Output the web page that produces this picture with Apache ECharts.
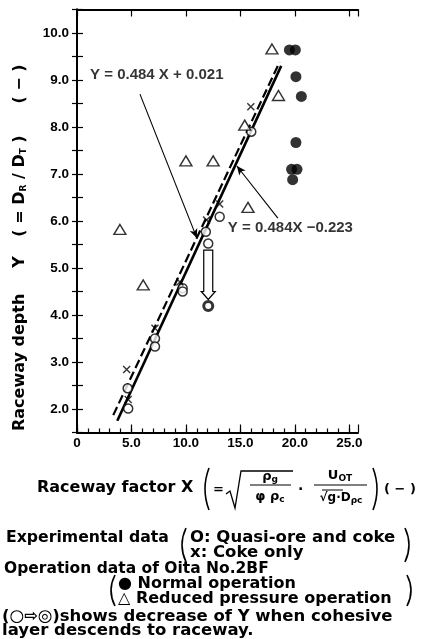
<!DOCTYPE html>
<html>
<head>
<meta charset="utf-8">
<script src="https://cdn.jsdelivr.net/npm/echarts@6/dist/echarts.min.js"></script>
<style>
  html, body { margin: 0; padding: 0; background: #fff; }
  #main { width: 422px; height: 639px; }
</style>
</head>
<body>
<div id="main"></div>
<script>
// Experimental data: quasi-ore and coke (open circles)
const quasiX = [4.65, 4.7, 7.16, 7.16, 9.7, 9.7, 11.83, 12.05, 13.1, 16.0];
const quasiY = [2.44, 2.01, 3.5, 3.33, 4.57, 4.5, 5.77, 5.52, 6.09, 7.9];
// Experimental data: coke only (x marks)
const cokeX = [4.56, 4.7, 7.16, 9.45, 11.9, 13.1, 15.96];
const cokeY = [2.84, 2.2, 3.72, 4.7, 6.02, 6.36, 8.43];
// Oita No.2BF, normal operation (filled circles)
const normalX = [19.5, 20.05, 20.1, 20.6, 20.1, 19.7, 20.2, 19.8];
const normalY = [9.64, 9.64, 9.07, 8.65, 7.67, 7.1, 7.1, 6.88];
// Oita No.2BF, reduced pressure operation (open triangles)
const reducedX = [3.94, 6.08, 10.0, 12.5, 15.4, 15.7, 17.9, 18.5];
const reducedY = [5.82, 4.64, 7.28, 7.28, 8.04, 6.29, 9.66, 8.67];
// cohesive layer descends: point after the drop
const droppedX = [12.05];
const droppedY = [4.19];
// hollow arrow (x, from y, to y)
const dropArrow = [12.05, 5.38, 4.33];
// fitted lines, end points
const dashedX = [3.33, 18.6];
const dashedY = [1.87, 9.38];
const solidX = [3.7, 18.75];
const solidY = [1.75, 9.3];
// equation labels and their pointer arrows
const eqText = ['Y = 0.484 X + 0.021', 'Y = 0.484X \u22120.223'];
const eqX = [1.2, 13.85];
const eqY = [9.1, 5.85];
const ptrFrom = [[5.78, 8.7], [18.44, 6.06]];
const ptrTo = [[11.0, 5.64], [14.68, 7.17]];

const xTicks = [0, 5, 10, 15, 20, 25];

const zip = (a, b) => a.map((v, i) => [v, b[i]]);
const FONT = '"DejaVu Sans"';
const black = '#000';

const chart = echarts.init(document.getElementById('main'));

const subStyle = { fontFamily: FONT, fontWeight: 'bold', fontSize: 9, verticalAlign: 'bottom', padding: [6, 0, 0, 0] };

function txt(x, y, s, size, more) {
  const el = {
    type: 'text', x: x, y: y,
    style: {
      text: s, fontFamily: FONT, fontWeight: 'bold', fontSize: size,
      fill: black, align: 'left', verticalAlign: 'middle', rich: { s: subStyle }
    }
  };
  if (more) {
    Object.assign(el.style, more.style || {});
    if (more.rotation) el.rotation = more.rotation;
  }
  return el;
}
function paren(x, top, bottom, right) {
  const d = right ? -1 : 1;
  return {
    type: 'bezierCurve',
    shape: { x1: x + 3 * d, y1: top, x2: x + 3 * d, y2: bottom, cpx1: x - 5 * d, cpy1: (top + bottom) / 2 },
    style: { stroke: black, lineWidth: 1.6, fill: null }
  };
}
function line(x1, y1, x2, y2, w) {
  return { type: 'line', shape: { x1, y1, x2, y2 }, style: { stroke: black, lineWidth: w || 1.2 } };
}
const up = Math.PI / 2;
const centred = { style: { align: 'center' } };

const graphics = [
  // y axis title, reads bottom to top
  txt(20, 431, 'Raceway depth', 16, { rotation: up }),
  txt(20, 262, 'Y', 16, { rotation: up, style: { align: 'center' } }),
  txt(20, 186, '( = D{s|R} / D{s|T} )', 16, { rotation: up, style: { align: 'center' } }),
  txt(20, 84, '( \u2212 )', 16, { rotation: up, style: { align: 'center' } }),
  // x axis title with formula
  txt(37, 488, 'Raceway factor X', 16),
  paren(206, 468, 510, false),
  txt(213, 490, '=', 13),
  { type: 'polyline', shape: { points: [[226, 494], [230, 491], [235, 508], [241, 471], [293, 471]] }, style: { stroke: black, lineWidth: 1.3, fill: null } },
  txt(270, 477, '\u03c1{s|g}', 13, centred),
  line(250, 485, 291, 485),
  txt(270, 497, '\u03c6 \u03c1{s|c}', 13, centred),
  txt(298, 490, '\u00b7', 14),
  txt(340, 476, 'U{s|OT}', 13, centred),
  line(314, 485, 367, 485),
  txt(341, 498, '\u221ag\u00b7D{s|\u03c1c}', 12, centred),
  line(322, 490, 343, 490, 1),
  paren(376, 468, 510, true),
  txt(384, 490, '( \u2212 )', 13),
  // explanation
  txt(6, 538, 'Experimental data', 15.7),
  paren(183, 528, 562, false),
  txt(190, 538, 'O: Quasi-ore and coke', 16.5),
  txt(190, 553, 'x: Coke only', 16.5),
  paren(408, 528, 562, true),
  txt(4, 569, 'Operation data of Oita No.2BF', 15.5),
  paren(112, 575, 606, false),
  txt(118, 584, '\u25cf Normal operation', 16),
  txt(118, 599, '\u25b3 Reduced pressure operation', 16),
  paren(410, 575, 606, true),
  txt(2, 617, '(\u25cb\u21e8\u25ce)shows decrease of Y when cohesive', 16.5),
  txt(2, 631, 'layer descends to raceway.', 16.5)
];

const axisLabelFont = { fontFamily: 'Liberation Sans', fontWeight: 'bold', fontSize: 13.5, color: black };

const option = {
  backgroundColor: '#fff',
  animation: false,
  grid: { left: 77, right: 64, top: 9.5, bottom: 206.5 },
  xAxis: [
    { // minor ticks + labels
      type: 'value', min: 0, max: 25.8, interval: 1, position: 'bottom',
      axisLine: { lineStyle: { color: black, width: 2 } },
      axisTick: { inside: true, length: 4, lineStyle: { color: black, width: 1.2 } },
      axisLabel: Object.assign({
        margin: 4, showMaxLabel: false,
        formatter: v => xTicks.indexOf(v) < 0 ? '' : (v === 0 ? '0' : v.toFixed(1))
      }, axisLabelFont),
      splitLine: { show: false }
    },
    { // major ticks
      type: 'value', min: 0, max: 25.8, interval: 5, position: 'bottom',
      axisLine: { show: false },
      axisTick: { inside: true, length: 8, lineStyle: { color: black, width: 1.2 } },
      axisLabel: { show: false }, splitLine: { show: false }
    },
    { // top border
      type: 'value', min: 0, max: 25.8, interval: 5, position: 'top',
      axisLine: { lineStyle: { color: black, width: 2 } },
      axisTick: { inside: true, length: 7, lineStyle: { color: black, width: 1.2 } },
      axisLabel: { show: false }, splitLine: { show: false }
    }
  ],
  yAxis: [
    {
      type: 'value', min: 1.5, max: 10.5, interval: 0.5, position: 'left',
      axisLine: { lineStyle: { color: black, width: 2 } },
      axisTick: { inside: true, length: 6, lineStyle: { color: black, width: 1.2 } },
      axisLabel: Object.assign({
        margin: 8,
        formatter: v => (Number.isInteger(v) && v >= 2) ? v.toFixed(1) : ''
      }, axisLabelFont),
      splitLine: { show: false }
    },
    {
      type: 'value', min: 1.5, max: 10.5, interval: 0.5, position: 'right',
      axisLine: { lineStyle: { color: black, width: 2 } },
      axisTick: { inside: true, length: 5, lineStyle: { color: black, width: 1.2 } },
      axisLabel: { show: false }, splitLine: { show: false }
    }
  ],
  series: [
    {
      name: 'Y = 0.484X + 0.021', type: 'line', data: zip(dashedX, dashedY),
      symbol: 'none', lineStyle: { color: black, width: 2.2, type: [9, 4] }, z: 2
    },
    {
      name: 'Y = 0.484X - 0.223', type: 'line', data: zip(solidX, solidY),
      symbol: 'none', lineStyle: { color: black, width: 2.6 }, z: 2,
      markLine: {
        silent: true, symbol: ['none', 'arrow'], symbolSize: [6, 9],
        label: { show: false },
        lineStyle: { color: black, width: 1.1, type: 'solid' },
        data: ptrFrom.map((p, i) => [{ coord: p }, { coord: ptrTo[i] }])
      }
    },
    {
      name: 'drop', type: 'custom', z: 3,
      renderItem: function (params, api) {
        const a = api.coord([api.value(0), api.value(1)]);
        const b = api.coord([api.value(0), api.value(2)]);
        const x = a[0], w = 4.5, hw = 7, hl = 8;
        return {
          type: 'polygon',
          shape: { points: [[x - w, a[1]], [x + w, a[1]], [x + w, b[1] - hl], [x + hw, b[1] - hl], [x, b[1]], [x - hw, b[1] - hl], [x - w, b[1] - hl]] },
          style: { fill: '#fff', stroke: black, lineWidth: 1.2 }
        };
      },
      data: [dropArrow]
    },
    {
      name: 'Quasi-ore and coke', type: 'scatter', data: zip(quasiX, quasiY),
      symbol: 'circle', symbolSize: 9, z: 4,
      itemStyle: { color: '#fff', borderColor: black, borderWidth: 1.5 }
    },
    {
      name: 'Coke only', type: 'scatter', data: zip(cokeX, cokeY),
      symbol: 'path://M0,0L10,10M10,0L0,10', symbolSize: 7, z: 4,
      itemStyle: { color: 'none', borderColor: black, borderWidth: 1.4 }
    },
    {
      name: 'Normal operation', type: 'scatter', data: zip(normalX, normalY),
      symbol: 'circle', symbolSize: 11, z: 4,
      itemStyle: { color: black }
    },
    {
      name: 'Reduced pressure operation', type: 'scatter', data: zip(reducedX, reducedY),
      symbol: 'triangle', symbolSize: [12, 10], z: 4,
      itemStyle: { color: '#fff', borderColor: black, borderWidth: 1.4 }
    },
    {
      name: 'After descent', type: 'scatter', data: zip(droppedX, droppedY),
      symbol: 'circle', symbolSize: 9, z: 5,
      itemStyle: { color: '#fff', borderColor: black, borderWidth: 3 }
    },
    {
      name: 'equations', type: 'scatter', symbolSize: 0, z: 6, silent: true,
      data: eqText.map((t, i) => ({ value: [eqX[i], eqY[i]], name: t })),
      label: {
        show: true, position: 'right', distance: 0, formatter: p => p.name,
        fontFamily: 'Liberation Sans', fontWeight: 'bold', fontSize: 15, color: black
      }
    }
  ],
  graphic: graphics
};

chart.setOption(option);
</script>
</body>
</html>
